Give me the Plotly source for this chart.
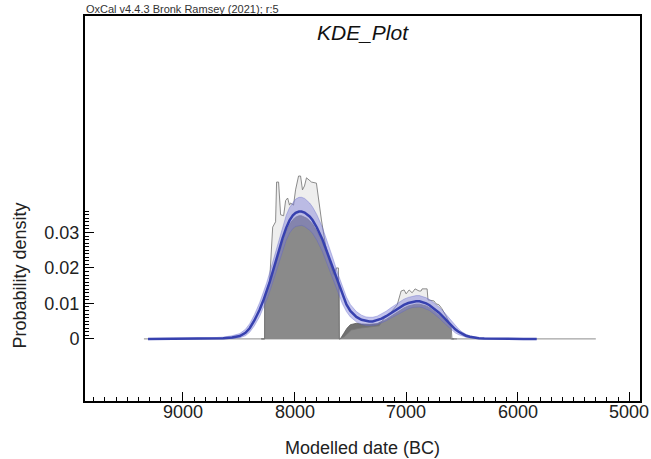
import numpy as np
import plotly.graph_objects as go

# ---------------- data ----------------
# KDE mean and +/- 1 sigma band (years BC, probability density)
kde_years = [9313, 9100, 8900, 8750, 8640, 8560, 8491, 8440, 8402, 8360, 8313, 8280, 8250, 8223,
             8190, 8160, 8130, 8107, 8075, 8045, 8015, 7990, 7960, 7938, 7910, 7890, 7865, 7839,
             7800, 7750, 7705, 7661, 7615, 7571, 7535, 7500, 7446, 7400, 7360, 7330, 7300, 7260,
             7220, 7179, 7140, 7100, 7063, 7020, 6980, 6940, 6911, 6880, 6850, 6821, 6790, 6760,
             6730, 6705, 6670, 6640, 6615, 6589, 6560, 6530, 6500, 6464, 6430, 6400, 6348, 6300,
             6250, 6170, 6050, 5950, 5830]
kde_mean = [0, 0.00002, 0.00005, 0.0001, 0.0002, 0.0004, 0.0008, 0.0017, 0.0030, 0.0052, 0.0082,
            0.0108, 0.0134, 0.0160, 0.0195, 0.0228, 0.0260, 0.0284, 0.0313, 0.0334, 0.0348, 0.0355,
            0.0359, 0.0359, 0.0356, 0.0352, 0.0345, 0.0335, 0.0314, 0.0280, 0.0242, 0.0202, 0.0160,
            0.0123, 0.0097, 0.0079, 0.0062, 0.0054, 0.0050, 0.0049, 0.0049, 0.0052, 0.0057, 0.0064,
            0.0072, 0.0080, 0.0088, 0.0096, 0.0101, 0.0105, 0.0106, 0.0106, 0.0104, 0.0100, 0.0095,
            0.0088, 0.0081, 0.0074, 0.0063, 0.0053, 0.0044, 0.0036, 0.0027, 0.0020, 0.0014, 0.0009,
            0.0006, 0.0004, 0.0002, 0.0001, 0.00006, 0.00003, 0.00001, 0, 0]
kde_upper = [0.0001, 0.0001, 0.00015, 0.0003, 0.0005, 0.0009, 0.0015, 0.0027, 0.0043, 0.0068, 0.0102,
             0.0130, 0.0158, 0.0187, 0.0224, 0.0260, 0.0293, 0.0318, 0.0348, 0.0370, 0.0385, 0.0394,
             0.0399, 0.0399, 0.0396, 0.0391, 0.0383, 0.0372, 0.0350, 0.0314, 0.0274, 0.0232, 0.0187,
             0.0147, 0.0118, 0.0097, 0.0077, 0.0067, 0.0062, 0.0061, 0.0061, 0.0064, 0.0070, 0.0078,
             0.0087, 0.0096, 0.0104, 0.0112, 0.0117, 0.0121, 0.0122, 0.0122, 0.0120, 0.0116, 0.0111,
             0.0104, 0.0097, 0.0090, 0.0079, 0.0068, 0.0058, 0.0048, 0.0037, 0.0028, 0.0020, 0.0013,
             0.0009, 0.0006, 0.0003, 0.0002, 0.0001, 0.00006, 0.00003, 0.00001, 0]
kde_lower = [0, 0, 0, 0.00003, 0.00006, 0.0001, 0.0003, 0.0009, 0.0019, 0.0037, 0.0063,
             0.0086, 0.0110, 0.0133, 0.0166, 0.0196, 0.0227, 0.0250, 0.0278, 0.0298, 0.0311, 0.0317,
             0.0320, 0.0320, 0.0317, 0.0313, 0.0306, 0.0298, 0.0278, 0.0246, 0.0210, 0.0172, 0.0133,
             0.0099, 0.0077, 0.0062, 0.0048, 0.0041, 0.0038, 0.0037, 0.0038, 0.0040, 0.0045, 0.0051,
             0.0058, 0.0065, 0.0072, 0.0080, 0.0085, 0.0089, 0.0090, 0.0090, 0.0088, 0.0085, 0.0080,
             0.0073, 0.0066, 0.0059, 0.0048, 0.0039, 0.0031, 0.0024, 0.0017, 0.0012, 0.0008, 0.0005,
             0.0003, 0.0002, 0.0001, 0.00005, 0.00002, 0, 0, 0, 0]

# KDE_Plot distribution (dark grey fill)
dark_years = [8300, 8268, 8267, 8250, 8223, 8190, 8160, 8130, 8107, 8075, 8045, 8015, 7990, 7960,
              7938, 7910, 7890, 7865, 7839, 7800, 7750, 7705, 7661, 7630, 7601, 7600, 7590, 7560,
              7530, 7500, 7446, 7400, 7330, 7260, 7220, 7179, 7140, 7100, 7063, 7020, 6980, 6940,
              6911, 6880, 6850, 6821, 6790, 6760, 6730, 6705, 6670, 6640, 6610, 6600, 6599, 6570]
dark_dens = [0, 0, 0.0115, 0.0130, 0.0155, 0.0189, 0.0221, 0.0252, 0.0275, 0.0303, 0.0323, 0.0336,
             0.0343, 0.0347, 0.0347, 0.0344, 0.0340, 0.0333, 0.0324, 0.0304, 0.0271, 0.0234, 0.0195,
             0.0168, 0.0146, 0, 0, 0.0015, 0.0030, 0.0040, 0.0044, 0.0042, 0.0041, 0.0043, 0.0048,
             0.0055, 0.0063, 0.0071, 0.0079, 0.0087, 0.0093, 0.0097, 0.0098, 0.0098, 0.0096, 0.0093,
             0.0088, 0.0081, 0.0074, 0.0067, 0.0057, 0.0048, 0.0040, 0.0037, 0, 0]

# Summed (unmodelled) distribution - grey outline
sum_years = [8295, 8268, 8268, 8223, 8196, 8170, 8161, 8143, 8125, 8098, 8080, 8062, 8045, 8036,
             8009, 7991, 7964, 7946, 7929, 7911, 7893, 7875, 7848, 7804, 7786, 7759, 7723, 7688,
             7652, 7625, 7607, 7598, 7554, 7491, 7420, 7330, 7241, 7196, 7134, 7080, 7045, 7018,
             7000, 6973, 6946, 6920, 6884, 6866, 6857, 6812, 6804, 6750, 6732, 6705, 6679, 6643,
             6616, 6598, 6589, 6545]
sum_dens = [0, 0, 0.0110, 0.0166, 0.0315, 0.0330, 0.0442, 0.0442, 0.0350, 0.0347, 0.0390, 0.0397,
            0.0377, 0.0383, 0.0377, 0.0420, 0.0459, 0.0459, 0.0420, 0.0431, 0.0454, 0.0448, 0.0442,
            0.0439, 0.0390, 0.0335, 0.0265, 0.0217, 0.0180, 0.0200, 0.0200, 0, 0.0006, 0.0025,
            0.0030, 0.0034, 0.0037, 0.0059, 0.0076, 0.0096, 0.0135, 0.0138, 0.0127, 0.0138, 0.0130,
            0.0141, 0.0135, 0.0135, 0.0141, 0.0141, 0.0110, 0.0107, 0.0099, 0.0096, 0.0085, 0.0065,
            0.0048, 0.0042, 0, 0]

baseline_years = [9350, 5300]
baseline_dens = [0, 0]

x_ticks = [9000, 8000, 7000, 6000, 5000]
x_ticktext = ["9000", "8000", "7000", "6000", "5000"]
y_ticks = [0, 0.01, 0.02, 0.03]
y_ticktext = ["0", "0.01", "0.02", "0.03"]
y_minor = list(np.round(np.arange(0, 0.0365, 0.001), 4))

FONT = "Liberation Sans, Arial, sans-serif"

fig = go.Figure()

fig.add_trace(go.Scatter(x=baseline_years, y=baseline_dens, mode="lines",
                         line=dict(color="rgb(140,140,140)", width=1), hoverinfo="skip"))

fig.add_trace(go.Scatter(x=dark_years, y=dark_dens, mode="lines", fill="tozeroy",
                         fillcolor="rgb(112,112,112)",
                         line=dict(color="rgb(90,90,90)", width=0.8), hoverinfo="skip"))

fig.add_trace(go.Scatter(x=sum_years, y=sum_dens, mode="lines", fill="tozeroy",
                         fillcolor="rgba(200,200,200,0.3)",
                         line=dict(color="rgba(120,120,120,0.85)", width=1), hoverinfo="skip"))

fig.add_trace(go.Scatter(x=kde_years, y=kde_lower, mode="lines",
                         line=dict(color="rgba(90,95,200,0.45)", width=0.8), hoverinfo="skip"))
fig.add_trace(go.Scatter(x=kde_years, y=kde_upper, mode="lines", fill="tonexty",
                         fillcolor="rgba(125,125,215,0.45)",
                         line=dict(color="rgba(90,95,200,0.45)", width=0.8), hoverinfo="skip"))

fig.add_trace(go.Scatter(x=kde_years, y=kde_mean, mode="lines",
                         line=dict(color="rgb(55,65,175)", width=2.5), hoverinfo="skip"))

axis_common = dict(showline=True, linecolor="black", linewidth=2, mirror=True,
                   ticks="inside", tickcolor="black", tickwidth=1.2, ticklen=9,
                   showgrid=False, zeroline=False,
                   tickfont=dict(family=FONT, size=18, color="#222"))

fig.update_xaxes(range=[9878, 4904], tickmode="array", tickvals=x_ticks,
                 showticklabels=False,
                 minor=dict(ticks="inside", dtick=100, tick0=0, ticklen=4,
                            tickcolor="black", tickwidth=1, showgrid=False),
                 **axis_common)
fig.update_yaxes(range=[-0.0175, 0.091], tickmode="array", tickvals=y_ticks,
                 ticktext=y_ticktext,
                 minor=dict(ticks="inside", tickmode="array", tickvals=y_minor, ticklen=4,
                            tickcolor="black", tickwidth=1, showgrid=False),
                 **axis_common)

annotations = [
    dict(text="<i>KDE_Plot</i>", xref="paper", yref="paper", x=0.5, y=0.956,
         xanchor="center", yanchor="middle", showarrow=False,
         font=dict(family=FONT, size=21, color="#111")),
    dict(text="OxCal v4.4.3 Bronk Ramsey (2021); r:5", xref="paper", yref="paper",
         x=0.0, y=1.0, xanchor="left", yanchor="bottom", showarrow=False,
         font=dict(family=FONT, size=11, color="#333"), borderpad=0),
    dict(text="Modelled date (BC)", xref="paper", yref="paper", x=0.5, y=-0.122,
         xanchor="center", yanchor="middle", showarrow=False,
         font=dict(family=FONT, size=18, color="#222")),
    dict(text="Probability density", xref="paper", yref="paper", x=-0.117, y=0.326,
         xanchor="center", yanchor="middle", textangle=-90, showarrow=False,
         font=dict(family=FONT, size=18, color="#222")),
]
# x tick labels placed just under the axis line, as in the reference
for v, t in zip(x_ticks, x_ticktext):
    annotations.append(dict(text=t, xref="x", yref="paper", x=v, y=-0.028,
                            xanchor="center", yanchor="middle", showarrow=False,
                            font=dict(family=FONT, size=18, color="#222")))

fig.update_layout(
    width=651, height=459,
    margin=dict(l=85, r=9, t=16, b=58),
    paper_bgcolor="white", plot_bgcolor="white",
    showlegend=False,
    font=dict(family=FONT, color="#222"),
    annotations=annotations,
)

fig.write_html("out.html")
